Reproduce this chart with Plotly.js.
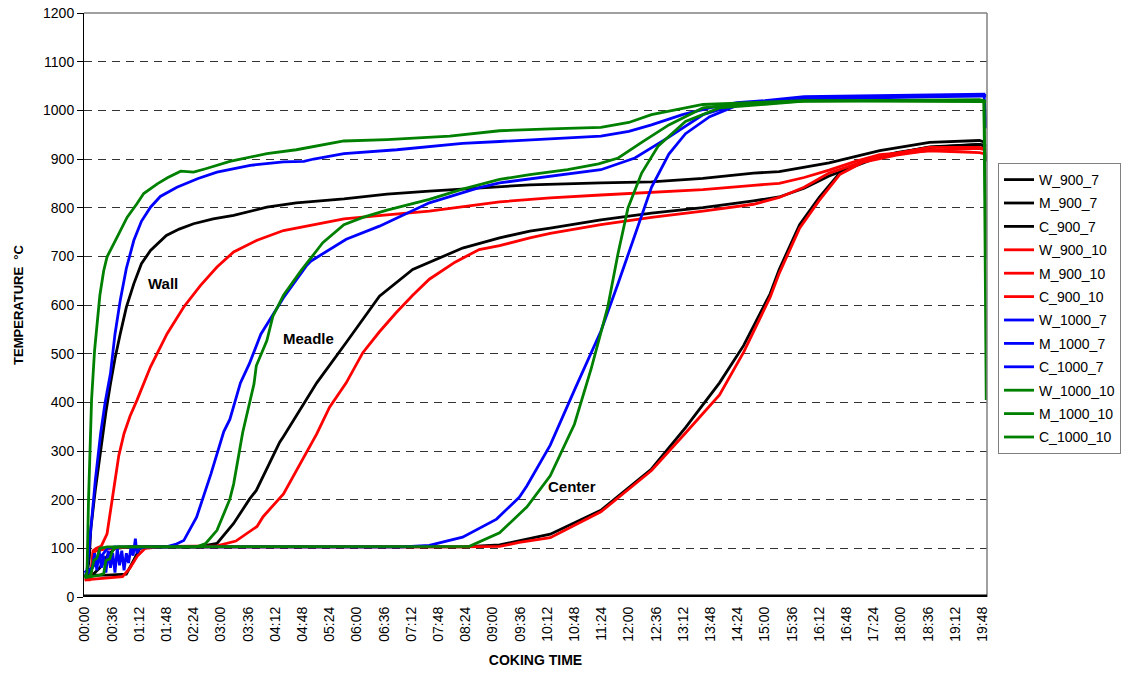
<!DOCTYPE html>
<html>
<head>
<meta charset="utf-8">
<script src="https://cdn.plot.ly/plotly-3.0.1.min.js"></script>
<style>html,body{margin:0;padding:0;background:#fff;}#chart{width:1125px;height:675px;}</style>
</head>
<body>
<div id="chart"></div>
<script>
// Tick labels (coking time, HH:MM)
const tickLabels = ["00:00","00:36","01:12","01:48","02:24","03:00","03:36","04:12","04:48","05:24","06:00","06:36","07:12","07:48","08:24","09:00","09:36","10:12","10:48","11:24","12:00","12:36","13:12","13:48","14:24","15:00","15:36","16:12","16:48","17:24","18:00","18:36","19:12","19:48"];

const seriesNames = ["W_900_7","M_900_7","C_900_7","W_900_10","M_900_10","C_900_10","W_1000_7","M_1000_7","C_1000_7","W_1000_10","M_1000_10","C_1000_10"];
const seriesColors = ["#000000","#000000","#000000","#ff0000","#ff0000","#ff0000","#0000ff","#0000ff","#0000ff","#008000","#008000","#008000"];

// times in minutes, temperatures in °C
const t_W_900_7 = [0,3,6,8,14,21,28,34,40,47,55,65,75,87,100,108,125,144,170,197,241,280,343,400,456,520,589,683,750,818,885,919,952,985,1052,1118,1184,1190,1193];
const v_W_900_7 = [40,45,80,140,220,301,380,438,490,541,595,644,685,712,732,743,756,767,777,784,801,810,818,828,834,840,847,851,853,860,871,874,883,892,917,934,938,935,895];

const t_M_900_7 = [0,10,20,30,40,60,150,175,197,218,227,258,263,302,307,346,390,434,500,549,589,616,683,750,818,885,919,952,985,1052,1118,1184,1193];
const v_M_900_7 = [40,45,60,85,100,103,103,110,151,201,219,318,330,427,440,523,618,673,717,738,752,758,775,789,800,814,822,840,865,905,925,930,928];

const t_C_900_7 = [0,30,55,65,73,90,500,549,575,616,683,750,795,840,872,907,919,946,972,999,1029,1074,1118,1184,1193];
const v_C_900_7 = [45,45,47,75,100,103,103,107,116,129,178,263,348,440,517,623,673,765,821,871,895,913,924,930,925];

const t_W_900_10 = [0,6,9,11,15,22,29.5,38,45,52,60,69,87,109,131,153,175,197,228,263,307,343,400,456,549,616,683,750,818,885,919,952,985,1020,1052,1118,1184,1193];
const v_W_900_10 = [35,35,60,95,100,105,130,220,290,336,372,404,473,541,596,640,678,709,733,753,767,777,785,793,812,820,826,831,837,846,850,862,877,895,909,917,913,910];

const t_M_900_10 = [0,8,11,15,25,40,60,175,200,228,236,263,280,307,324,346,368,390,412,434,456,490,522,549,589,616,683,750,818,885,919,952,985,1052,1118,1184,1193];
const v_M_900_10 = [35,40,90,95,98,100,103,105,115,145,165,212,260,335,390,440,502,545,584,620,653,688,714,722,738,747,765,780,793,807,821,842,871,906,924,924,920];

const t_C_900_10 = [0,40,50,60,70,80,100,500,549,575,616,683,750,795,840,872,907,919,946,972,999,1029,1074,1118,1184,1193];
const v_C_900_10 = [35,40,42,60,85,100,103,103,104,112,122,175,260,337,415,503,616,665,758,815,868,893,908,918,922,918];

const t_W_1000_7 = [0,3,7.5,14,21,27,34,40,47,55,65,75,87,100,122,150,175,197,219,263,290,303,324,343,413,500,549,616,683,720,750,791,827,863,900,952,1050,1184,1190,1193];
const v_W_1000_7 = [50,55,130,240,336,400,459,540,610,675,733,772,801,823,842,860,873,880,887,894,895,900,905,911,919,932,936,941,947,957,970,991,1005,1016,1020,1028,1030,1033,1033,963];

const t_M_1000_7 = [0,10,20,30,40,108,120,131,148,167,184,192,206,218,233,258,263,293,299,346,390,456,522,549,589,683,728,773,818,863,952,1100,1193];
const v_M_1000_7 = [50,60,80,100,103,103,108,116,164,253,340,365,440,480,540,605,615,680,690,735,762,810,841,851,859,878,902,945,991,1012,1023,1030,1030];

const t_C_1000_7 = [0,5,10,13,16,19,22,25,28,31,34,37,40,43,46,49,52,55,58,61,64,67,69,72,80,420,456,500,545,575,585,616,648,683,706,728,750,773,795,827,863,952,1100,1193];
const v_C_1000_7 = [45,50,60,90,55,95,60,85,50,95,60,90,50,100,65,95,55,90,70,100,85,120,90,100,103,103,106,123,160,205,228,312,425,546,645,743,842,910,952,987,1010,1023,1028,1030];

const t_W_1000_10 = [0,3,5,7,9,13,16,20,25,29.5,43,56,69,78,96,110,127,144,160,175,192,241,280,343,400,483,549,616,683,720,750,818,952,1184,1190,1193];
const v_W_1000_10 = [40,50,200,330,405,507,560,620,670,699,740,780,808,829,849,862,875,873,880,887,895,911,919,937,940,947,958,962,965,975,991,1012,1020,1018,1018,694];

const t_M_1000_10 = [0,8,12,16,20,30,148,160,175,192,197,209,224,227,241,249,263,280,286,307,315,343,368,400,456,500,549,589,639,680,706,737,773,818,860,952,1184,1190,1193];
const v_M_1000_10 = [40,45,75,80,100,103,103,110,137,201,232,338,438,475,527,577,620,659,670,712,728,765,780,795,817,838,858,868,878,890,902,934,970,1005,1012,1019,1022,1020,405];

const t_C_1000_10 = [0,20,25,28,33,38,45,470,509,549,585,616,648,670,692,706,719,737,759,795,840,952,1184,1193];
const v_C_1000_10 = [40,45,48,75,78,100,103,103,104,132,185,249,355,468,595,708,800,871,927,977,1005,1019,1020,1018];

const seriesT = [t_W_900_7,t_M_900_7,t_C_900_7,t_W_900_10,t_M_900_10,t_C_900_10,t_W_1000_7,t_M_1000_7,t_C_1000_7,t_W_1000_10,t_M_1000_10,t_C_1000_10];
const seriesV = [v_W_900_7,v_M_900_7,v_C_900_7,v_W_900_10,v_M_900_10,v_C_900_10,v_W_1000_7,v_M_1000_7,v_C_1000_7,v_W_1000_10,v_M_1000_10,v_C_1000_10];

const regionLabels = ["Wall","Meadle","Center"];
const regionLabelX = [103,296,645];
const regionLabelY = [645,532,228];

const FONT = "Arial, 'Liberation Sans', sans-serif";

const tickVals = tickLabels.map(s => { const p = s.split(":"); return (+p[0])*60 + (+p[1]); });

const traces = seriesNames.map((n,i) => ({
  type: "scatter", mode: "lines", name: n,
  x: seriesT[i], y: seriesV[i],
  line: {color: seriesColors[i], width: 2.8},
  legendgroup: "g"+i
}));

const layout = {
  width: 1125, height: 675,
  margin: {l: 84, r: 138, t: 13, b: 78, autoexpand: false},
  paper_bgcolor: "#fff", plot_bgcolor: "#fff",
  font: {family: FONT, color: "#000", size: 14},
  showlegend: true,
  legend: {xref: "container", yref: "container", x: 998/1125, xanchor: "left", y: 1 - 163/675, yanchor: "top",
    bgcolor: "#fff", bordercolor: "#808080", borderwidth: 1,
    font: {family: FONT, size: 14, color: "#000"}, tracegroupgap: 2.2},
  xaxis: {
    range: [-1, 1194], tickmode: "array", tickvals: tickVals, ticktext: tickLabels,
    tickangle: -90, tickfont: {family: FONT, size: 14, color: "#000"},
    ticklabelstandoff: 6,
    showgrid: false, zeroline: false, showline: false, ticks: "",
    title: {text: "COKING TIME", font: {family: FONT, size: 14, color: "#000", weight: "bold"}, standoff: 14},
    automargin: false
  },
  yaxis: {
    range: [0, 1200], dtick: 100, tick0: 0,
    tickfont: {family: FONT, size: 14, color: "#000"},
    showgrid: true, gridcolor: "#333", griddash: "8px,6px", gridwidth: 1,
    zeroline: false, showline: true, linecolor: "#000", linewidth: 1,
    ticks: "outside", ticklen: 6, tickcolor: "#000",
    title: {text: "TEMPERATURE  °C", font: {family: FONT, size: 13, color: "#000", weight: "bold"}, standoff: 16},
    automargin: false
  },
  shapes: [
    {type: "line", xref: "paper", yref: "paper", x0: 0, x1: 1, y0: 1, y1: 1, line: {color: "#808080", width: 1.5}},
    {type: "line", xref: "paper", yref: "paper", x0: 1, x1: 1, y0: 0, y1: 1, line: {color: "#808080", width: 1.5}},
    {type: "line", xref: "paper", yref: "y", x0: 0, x1: 1, y0: 0, y1: 0, line: {color: "#000", width: 5}}
  ],
  annotations: regionLabels.map((s,i) => ({
    x: regionLabelX[i], y: regionLabelY[i], xref: "x", yref: "y", text: s, showarrow: false,
    font: {family: FONT, size: 15, color: "#000", weight: "bold"}
  }))
};

Plotly.newPlot("chart", traces, layout, {displayModeBar: false, staticPlot: true});
</script>
</body>
</html>
